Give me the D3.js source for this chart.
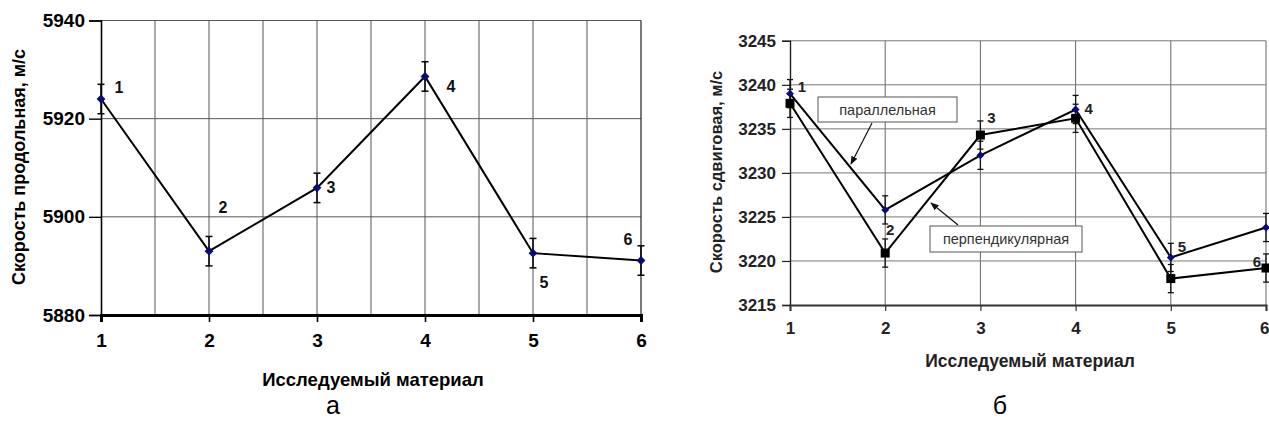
<!DOCTYPE html>
<html><head><meta charset="utf-8">
<script src="https://cdn.jsdelivr.net/npm/d3@7"></script>
<style>body{margin:0;background:#fff}svg{display:block}text{font-family:Arial,"Liberation Sans",sans-serif}</style>
</head><body>
<svg id="c" width="1269" height="425"></svg>
<script>
// ---- data ----
const materials = [1, 2, 3, 4, 5, 6];
const longVelocity = [5924.0, 5893.0, 5905.9, 5928.6, 5892.6, 5891.1];
const longError = [3, 3, 3, 3, 3, 3];
const longTicks = [5880, 5900, 5920, 5940];
const shearParallel = [3239.0, 3225.8, 3232.0, 3237.2, 3220.4, 3223.8];
const shearPerpendicular = [3237.9, 3220.9, 3234.3, 3236.2, 3218.0, 3219.2];
const shearError = [1.6, 1.6, 1.6, 1.6, 1.6, 1.6];
const shearTicks = [3215, 3220, 3225, 3230, 3235, 3240, 3245];
const pointLabels = ["1", "2", "3", "4", "5", "6"];
const xTitle = "Исследуемый материал";
const yTitleLeft = "Скорость продольная, м/с";
const yTitleRight = "Скорость сдвиговая, м/с";
const annParallel = "параллельная";
const annPerpendicular = "перпендикулярная";
const captions = ["а", "б"];

const svg = d3.select("#c");
svg.append("defs").append("marker").attr("id", "arr").attr("viewBox", "0 0 10 10")
  .attr("refX", 9).attr("refY", 5).attr("markerWidth", 7).attr("markerHeight", 7).attr("orient", "auto")
  .append("path").attr("d", "M0,1 L10,5 L0,9 z").attr("fill", "#111");

// ================= LEFT CHART =================
{
  const x = d3.scaleLinear().domain([1, 6]).range([101, 641]);
  const y = d3.scaleLinear().domain([5880, 5940]).range([315, 20.5]);
  const g = svg.append("g");
  const vg = d3.range(1.5, 6, 0.5);
  g.selectAll(".vg").data(vg).join("line")
    .attr("x1", d => x(d)).attr("x2", d => x(d)).attr("y1", y(5940)).attr("y2", y(5880))
    .attr("stroke", "#555").attr("stroke-width", 1);
  g.selectAll(".hg").data(longTicks.filter(t => t > 5880)).join("line")
    .attr("x1", x(1)).attr("x2", x(6)).attr("y1", d => y(d)).attr("y2", d => y(d))
    .attr("stroke", "#555").attr("stroke-width", 1);
  g.append("line").attr("x1", x(6)).attr("x2", x(6)).attr("y1", y(5940)).attr("y2", y(5880)).attr("stroke", "#222").attr("stroke-width", 1.2);
  const ya = d3.axisLeft(y).tickValues(longTicks).tickSize(12).tickPadding(4).tickFormat(d3.format("d"));
  const yg = g.append("g").attr("transform", `translate(${x(1)},0)`).call(ya);
  yg.select(".domain").attr("stroke", "#000").attr("stroke-width", 1.6);
  yg.selectAll(".tick line").attr("stroke", "#000").attr("stroke-width", 1.4);
  yg.selectAll("text").attr("font-size", 19).attr("font-weight", "bold").attr("fill", "#000");
  const xa = d3.axisBottom(x).tickValues(materials).tickSize(7).tickPadding(12).tickFormat(d3.format("d"));
  const xg = g.append("g").attr("transform", `translate(0,${y(5880)})`).call(xa);
  xg.select(".domain").attr("stroke", "#000").attr("stroke-width", 3);
  xg.selectAll(".tick line").attr("stroke", "#000").attr("stroke-width", 1.6);
  xg.selectAll("text").attr("font-size", 19).attr("font-weight", "bold").attr("fill", "#000");
  g.append("text").attr("x", 373).attr("y", 386).attr("text-anchor", "middle")
    .attr("font-size", 18.5).attr("font-weight", "bold").text(xTitle);
  g.append("text").attr("transform", `translate(25,167) rotate(-90)`).attr("text-anchor", "middle")
    .attr("font-size", 18).attr("font-weight", "bold").text(yTitleLeft);
  const eb = g.selectAll(".eb").data(materials).join("g");
  eb.append("line").attr("x1", (d) => x(d)).attr("x2", d => x(d))
    .attr("y1", (d, i) => y(longVelocity[i] + longError[i])).attr("y2", (d, i) => y(longVelocity[i] - longError[i]))
    .attr("stroke", "#000").attr("stroke-width", 1.5);
  [1, -1].forEach(s => eb.append("line").attr("x1", d => x(d) - 3.5).attr("x2", d => x(d) + 3.5)
    .attr("y1", (d, i) => y(longVelocity[i] + s * longError[i])).attr("y2", (d, i) => y(longVelocity[i] + s * longError[i]))
    .attr("stroke", "#000").attr("stroke-width", 1.5));
  const line = d3.line().x((d, i) => x(materials[i])).y(d => y(d));
  g.append("path").attr("d", line(longVelocity)).attr("fill", "none").attr("stroke", "#000").attr("stroke-width", 2);
  g.selectAll(".pt").data(longVelocity).join("path")
    .attr("d", d3.symbol(d3.symbolDiamond2, 50))
    .attr("transform", (d, i) => `translate(${x(materials[i])},${y(d)})`).attr("fill", "#0a0a78");
  const off = [[18, -12], [14, -44], [14, 0], [26, 10], [11, 29], [-13, -21]];
  g.selectAll(".pl").data(pointLabels).join("text")
    .attr("x", (d, i) => x(materials[i]) + off[i][0]).attr("y", (d, i) => y(longVelocity[i]) + off[i][1])
    .attr("dy", "0.35em").attr("text-anchor", "middle").attr("font-size", 16).attr("font-weight", "bold").attr("fill", "#111").text(d => d);
  svg.append("text").attr("x", 333).attr("y", 414).attr("text-anchor", "middle")
    .attr("font-family", "'Liberation Serif','Times New Roman',serif").attr("font-size", 25).text(captions[0]);
}

// ================= RIGHT CHART =================
{
  const x = d3.scaleLinear().domain([1, 6]).range([790, 1266]);
  const y = d3.scaleLinear().domain([3215, 3245]).range([305, 40.8]);
  const g = svg.append("g");
  g.selectAll(".vg").data(materials.slice(1)).join("line")
    .attr("x1", d => x(d)).attr("x2", d => x(d)).attr("y1", y(3245)).attr("y2", y(3215))
    .attr("stroke", "#666").attr("stroke-width", 1);
  g.selectAll(".hg").data(shearTicks.slice(1)).join("line")
    .attr("x1", x(1)).attr("x2", x(6)).attr("y1", d => y(d)).attr("y2", d => y(d))
    .attr("stroke", "#777").attr("stroke-width", 1);
  const ya = d3.axisLeft(y).tickValues(shearTicks).tickSize(8).tickPadding(6).tickFormat(d3.format("d"));
  const yg = g.append("g").attr("transform", `translate(${x(1)},0)`).call(ya);
  yg.select(".domain").attr("stroke", "#222").attr("stroke-width", 1.4);
  yg.selectAll(".tick line").attr("stroke", "#222").attr("stroke-width", 1.2);
  yg.selectAll("text").attr("font-size", 17).attr("font-weight", "bold").attr("fill", "#222");
  const xa = d3.axisBottom(x).tickValues(materials).tickSize(6).tickPadding(11).tickFormat(d3.format("d"));
  const xg = g.append("g").attr("transform", `translate(0,${y(3215)})`).call(xa);
  xg.select(".domain").attr("stroke", "#333").attr("stroke-width", 2);
  xg.selectAll(".tick line").attr("stroke", "#333").attr("stroke-width", 1.2);
  xg.selectAll("text").attr("font-size", 17).attr("font-weight", "bold").attr("fill", "#222");
  // keep last tick label inside the picture
  xg.selectAll(".tick text").filter(d => d === 6).attr("text-anchor", "end").attr("x", 3);
  g.append("text").attr("x", 1030).attr("y", 367).attr("text-anchor", "middle")
    .attr("font-size", 17.5).attr("font-weight", "bold").attr("fill", "#222").text(xTitle);
  g.append("text").attr("transform", `translate(722,172) rotate(-90)`).attr("text-anchor", "middle")
    .attr("font-size", 16.5).attr("font-weight", "bold").attr("fill", "#222").text(yTitleRight);

  const series = [shearParallel, shearPerpendicular];
  series.forEach((vals) => {
    const eb = g.append("g").selectAll("g").data(materials).join("g");
    eb.append("line").attr("x1", d => x(d)).attr("x2", d => x(d))
      .attr("y1", (d, i) => y(vals[i] + shearError[i])).attr("y2", (d, i) => y(vals[i] - shearError[i]))
      .attr("stroke", "#111").attr("stroke-width", 1.3);
    [1, -1].forEach(s => eb.append("line").attr("x1", d => x(d) - 3).attr("x2", d => x(d) + 3)
      .attr("y1", (d, i) => y(vals[i] + s * shearError[i])).attr("y2", (d, i) => y(vals[i] + s * shearError[i]))
      .attr("stroke", "#111").attr("stroke-width", 1.3));
  });
  const line = d3.line().x((d, i) => x(materials[i])).y(d => y(d));
  g.append("path").attr("d", line(shearPerpendicular)).attr("fill", "none").attr("stroke", "#000").attr("stroke-width", 2);
  g.append("path").attr("d", line(shearParallel)).attr("fill", "none").attr("stroke", "#000").attr("stroke-width", 2);
  g.selectAll(".sq").data(shearPerpendicular).join("rect")
    .attr("x", (d, i) => x(materials[i]) - 4.5).attr("y", d => y(d) - 4.5).attr("width", 9).attr("height", 9).attr("fill", "#000");
  g.selectAll(".dm").data(shearParallel).join("path")
    .attr("d", d3.symbol(d3.symbolDiamond2, 40))
    .attr("transform", (d, i) => `translate(${x(materials[i])},${y(d)})`).attr("fill", "#0a0a80");
  const off = [[12, -7], [5, 20], [11, -38], [13, -1], [11, -11], [-9, 34]];
  g.selectAll(".pl").data(pointLabels).join("text")
    .attr("x", (d, i) => x(materials[i]) + off[i][0]).attr("y", (d, i) => y(shearParallel[i]) + off[i][1])
    .attr("dy", "0.35em").attr("text-anchor", "middle").attr("font-size", 15).attr("font-weight", "bold").attr("fill", "#222").text(d => d);

  const ann = [
    { t: annParallel, bx: 818, by: 97, bw: 139, bh: 25, ax1: 872, ay1: 123, ax2: 851, ay2: 164 },
    { t: annPerpendicular, bx: 930, by: 226, bw: 152, bh: 26, ax1: 958, ay1: 225, ax2: 931, ay2: 203 }
  ];
  ann.forEach(a => {
    g.append("line").attr("x1", a.ax1).attr("y1", a.ay1).attr("x2", a.ax2).attr("y2", a.ay2)
      .attr("stroke", "#111").attr("stroke-width", 1.2).attr("marker-end", "url(#arr)");
    g.append("rect").attr("x", a.bx).attr("y", a.by).attr("width", a.bw).attr("height", a.bh)
      .attr("fill", "#fff").attr("stroke", "#555").attr("stroke-width", 1);
    g.append("text").attr("x", a.bx + a.bw / 2).attr("y", a.by + a.bh / 2).attr("dy", "0.35em")
      .attr("text-anchor", "middle").attr("font-size", 14.5).attr("fill", "#333").text(a.t);
  });
  svg.append("text").attr("x", 1000).attr("y", 414).attr("text-anchor", "middle")
    .attr("font-family", "'Liberation Serif','Times New Roman',serif").attr("font-size", 25).text(captions[1]);
}
</script>
</body></html>
